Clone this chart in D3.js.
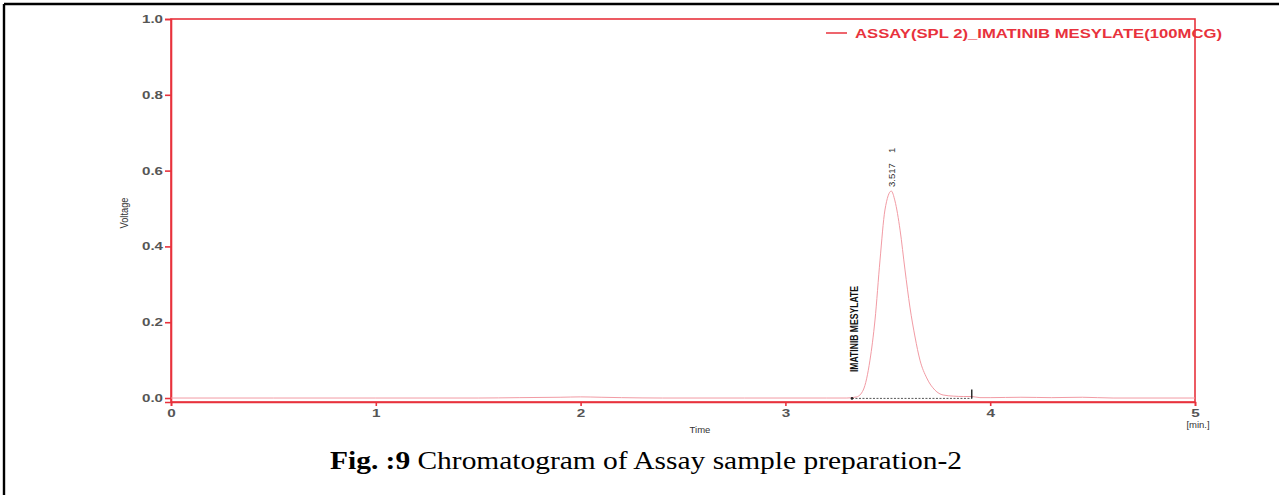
<!DOCTYPE html>
<html>
<head>
<meta charset="utf-8">
<script src="https://cdn.jsdelivr.net/npm/d3@7"></script>
<style>
  html, body { margin: 0; padding: 0; background: #fff; }
  svg { display: block; }
</style>
</head>
<body>
<svg id="chart" width="1279" height="495"></svg>
<script>
// Chromatogram trace: retention time (min) and detector voltage
const traceTime = [0, 0.5, 1.0, 1.5, 1.7, 1.9, 2.0, 2.1, 2.2, 2.4, 2.8, 3.2, 3.30, 3.348, 3.380, 3.413, 3.4375, 3.462, 3.486, 3.517,
                   3.535, 3.560, 3.584, 3.608, 3.633, 3.657, 3.690, 3.730, 3.770, 3.82, 3.87, 3.91, 3.95, 4.0, 4.15, 4.3, 4.45, 4.6, 5.0];
const traceVolt = [0, 0, 0, 0, 0.001, 0.002, 0.003, 0.002, 0.001, 0, 0, 0, 0, 0.003, 0.021, 0.100, 0.206, 0.364, 0.496, 0.546,
                   0.520, 0.443, 0.338, 0.240, 0.161, 0.100, 0.053, 0.021, 0.008, 0.005, 0.004, 0.004, 0.001, 0.001, 0.002, 0.001, 0.002, 0, 0];

// Integration baseline of the main peak (start / end, minutes)
const baselineTime = [3.325, 3.91];
const baselineVolt = [-0.001, -0.001];

// Peak annotation
const peakTime = 3.517;
const peakLabel = "3.517";
const peakNumber = "1";
const compoundName = "IMATINIB MESYLATE";

// Axis ticks
const xTicks = [0, 1, 2, 3, 4, 5];
const yTicks = [0.0, 0.2, 0.4, 0.6, 0.8, 1.0];

const legendText = "ASSAY(SPL 2)_IMATINIB MESYLATE(100MCG)";
const captionBold = "Fig. :9";
const captionRest = " Chromatogram of Assay sample preparation-2";

const svg = d3.select("#chart");
const red = "#e8323c";
const traceColor = "#f29ba4";
const sans = "Arial, 'Liberation Sans', sans-serif";

// Outer figure frame
svg.append("line").attr("x1", 4).attr("y1", 4).attr("x2", 1279).attr("y2", 4)
  .attr("stroke", "#000").attr("stroke-width", 2.4);
svg.append("line").attr("x1", 4).attr("y1", 4).attr("x2", 4).attr("y2", 495)
  .attr("stroke", "#000").attr("stroke-width", 2.4);

const plot = { left: 171, right: 1195, top: 19, bottom: 402 };
const x = d3.scaleLinear().domain([0, 5]).range([plot.left, plot.right]);
const y = d3.scaleLinear().domain([-0.0105, 1.0]).range([plot.bottom, plot.top]);

// Plot box
svg.append("rect")
  .attr("x", plot.left).attr("y", plot.top)
  .attr("width", plot.right - plot.left).attr("height", plot.bottom - plot.top)
  .attr("fill", "none").attr("stroke", red).attr("stroke-width", 1.6);

// Axes
const xAxis = d3.axisBottom(x).tickValues(xTicks).tickFormat(d3.format("d")).tickSize(4).tickPadding(3);
const yAxis = d3.axisLeft(y).tickValues(yTicks).tickFormat(d3.format(".1f")).tickSize(6).tickPadding(2);

const gx = svg.append("g").attr("transform", `translate(0,${plot.bottom})`).call(xAxis);
const gy = svg.append("g").attr("transform", `translate(${plot.left},0)`).call(yAxis);
[gx, gy].forEach(g => {
  g.select(".domain").attr("stroke", red).attr("stroke-width", 1.6);
  g.selectAll(".tick line").attr("stroke", red).attr("stroke-width", 1.6);
  g.selectAll(".tick text")
    .attr("fill", "#555")
    .style("font-family", sans)
    .style("font-size", "11px")
    .style("font-weight", "bold")
    .attr("lengthAdjust", "spacingAndGlyphs");
});
gy.selectAll(".tick text").attr("textLength", 21);
gx.selectAll(".tick text").attr("textLength", 8.5);

// Axis titles
svg.append("text").attr("x", 700).attr("y", 433).attr("text-anchor", "middle")
  .attr("fill", "#333").style("font-family", sans).style("font-size", "9.5px")
  .text("Time");
svg.append("text").attr("x", 1198).attr("y", 428).attr("text-anchor", "middle")
  .attr("fill", "#333").style("font-family", sans).style("font-size", "9.5px")
  .text("[min.]");
svg.append("text").attr("transform", "translate(128,213) rotate(-90)").attr("text-anchor", "middle")
  .attr("fill", "#333").style("font-family", sans).style("font-size", "10px")
  .attr("textLength", 31).attr("lengthAdjust", "spacingAndGlyphs")
  .text("Voltage");

// Legend
svg.append("line").attr("x1", 826).attr("x2", 847).attr("y1", 33).attr("y2", 33)
  .attr("stroke", red).attr("stroke-width", 1.5);
svg.append("text").attr("x", 855).attr("y", 37.5)
  .attr("fill", red).style("font-family", sans)
  .style("font-size", "12px").style("font-weight", "bold")
  .attr("textLength", 367).attr("lengthAdjust", "spacingAndGlyphs")
  .text(legendText);

// Trace
const traceData = traceTime.map((t, i) => [t, traceVolt[i]]);
const line = d3.line().x(d => x(d[0])).y(d => y(d[1])).curve(d3.curveMonotoneX);
svg.append("path").datum(traceData).attr("d", line)
  .attr("fill", "none").attr("stroke", traceColor).attr("stroke-width", 1);

// Integration baseline and markers
svg.append("line")
  .attr("x1", x(baselineTime[0])).attr("x2", x(baselineTime[1]))
  .attr("y1", y(baselineVolt[0])).attr("y2", y(baselineVolt[1]))
  .attr("stroke", "#555").attr("stroke-width", 1).attr("stroke-dasharray", "2,1.5");
svg.append("circle").attr("cx", x(baselineTime[0])).attr("cy", y(baselineVolt[0])).attr("r", 1.3).attr("fill", "#222");
svg.append("line")
  .attr("x1", x(baselineTime[1])).attr("x2", x(baselineTime[1]))
  .attr("y1", y(baselineVolt[1])).attr("y2", y(baselineVolt[1]) - 9)
  .attr("stroke", "#222").attr("stroke-width", 1.4);

// Peak labels
const peakV = traceVolt[traceTime.indexOf(peakTime)];
svg.append("text")
  .attr("transform", `translate(${x(peakTime) + 4},${y(peakV) - 4}) rotate(-90)`)
  .attr("fill", "#333").style("font-family", sans).style("font-size", "9.5px")
  .attr("textLength", 24).attr("lengthAdjust", "spacingAndGlyphs")
  .text(peakLabel);
svg.append("text")
  .attr("transform", `translate(${x(peakTime) + 4},${y(peakV) - 38}) rotate(-90)`)
  .attr("fill", "#333").style("font-family", sans).style("font-size", "9.5px")
  .text(peakNumber);
svg.append("text")
  .attr("transform", `translate(${x(baselineTime[0]) + 6},${y(0) - 26}) rotate(-90)`)
  .attr("fill", "#111").style("font-family", sans)
  .style("font-size", "11.5px").style("font-weight", "bold")
  .attr("textLength", 86).attr("lengthAdjust", "spacingAndGlyphs")
  .text(compoundName);

// Figure caption
const cap = svg.append("text").attr("x", 646).attr("y", 469).attr("text-anchor", "middle")
  .attr("fill", "#000").style("font-family", "'Liberation Serif', 'Times New Roman', serif")
  .style("font-size", "26px")
  .attr("textLength", 632).attr("lengthAdjust", "spacingAndGlyphs");
cap.append("tspan").style("font-weight", "bold").text(captionBold);
cap.append("tspan").text(captionRest);
</script>
</body>
</html>
